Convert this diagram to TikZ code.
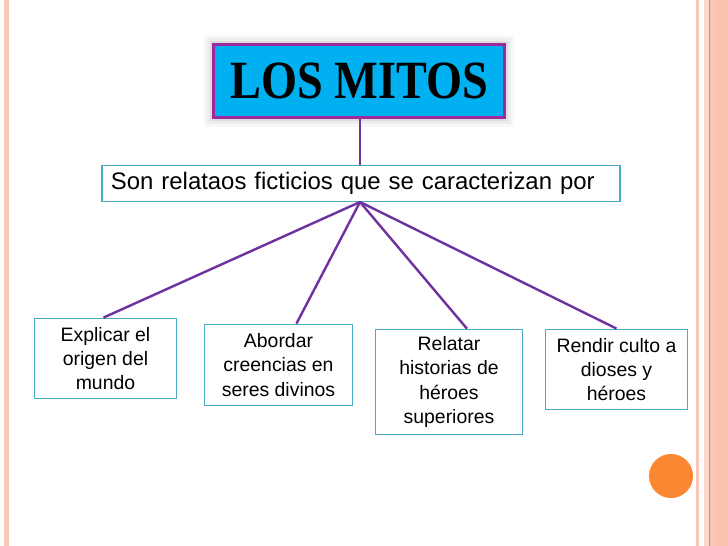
\documentclass[tikz,border=0pt]{standalone}
\usepackage{graphicx}
\usepackage{fontspec}
\newfontfamily\arialfont{Liberation Sans}
\newfontfamily\titlefont{Liberation Serif}
\definecolor{framepink}{HTML}{F9C7B5}
\definecolor{framesalmon}{HTML}{FBC2AC}
\definecolor{frameorange}{HTML}{F08A4B}
\definecolor{titlecyan}{HTML}{00B0F0}
\definecolor{titleborder}{HTML}{9E2A9E}
\definecolor{boxcyan}{HTML}{4BACC6}
\definecolor{linkpurple}{HTML}{7030A0}
\definecolor{dotorange}{HTML}{FB8733}
\tikzset{
  itembox/.style={draw=boxcyan,line width=1.1bp,fill=white,align=center,inner sep=0pt,
    font=\arialfont\fontsize{19.5}{24.5}\selectfont},
  branch/.style={linkpurple,line width=2.4bp},
}

\begin{document}
\begin{tikzpicture}[x=1bp,y=-1bp]
\path[use as bounding box,fill=white] (0,0) rectangle (728,546);
% slide frame
\fill[framepink] (4,0) rectangle (9,546);
\fill[framepink] (696,0) rectangle (699,546);
\fill[framepink!70] (704,0) rectangle (709,546);
\fill[framepink] (710,0) rectangle (716,546);
\fill[framesalmon] (716,0) rectangle (728,546);
\draw[frameorange,line width=1bp] (709.5,0)--(709.5,546);
\fill[dotorange] (671,476) circle (22);
% title with soft shadow
\foreach \g/\o in {9/0.05,6/0.09,3/0.14}
  \fill[gray,opacity=\o] (213-\g,44-\g) rectangle (505+\g,118+\g);
\node[draw=titleborder,line width=3bp,fill=titlecyan,minimum width=292,minimum height=74,inner sep=0pt] (title) at (359,81)
  {\titlefont\bfseries\fontsize{54}{54}\selectfont\scalebox{0.86}[1]{LOS MITOS}\hspace{12bp}};
\node[draw=boxcyan,line width=1.1bp,fill=white,text width=502,inner xsep=9,minimum height=37,align=left,
  font=\arialfont\fontsize{24}{28}\selectfont] (intro) at (361,183.5) {Son relataos ficticios que se caracterizan por};
\coordinate (hub) at (360,202);
\node[itembox,minimum width=143,minimum height=81] (origen) at (105.5,358.5) {Explicar el\\origen del\\mundo};
\node[itembox,minimum width=149,minimum height=82] (creencias) at (278.5,365) {Abordar\\creencias en\\seres divinos};
\node[itembox,minimum width=148,minimum height=106] (heroes) at (449,382) {Relatar\\historias de\\héroes\\superiores};
\node[itembox,minimum width=143,minimum height=81] (culto) at (616.5,369.5) {Rendir culto a\\dioses y\\héroes};
\draw[branch] ([xshift=1]title.south)--([xshift=1]title.south |- intro.north);
\draw[branch] (hub)--([xshift=-2]origen.north);
\draw[branch] (hub)--([xshift=18]creencias.north);
\draw[branch] (hub)--([xshift=18]heroes.north);
\draw[branch] (hub)--(culto.north);
\end{tikzpicture}
\end{document}
